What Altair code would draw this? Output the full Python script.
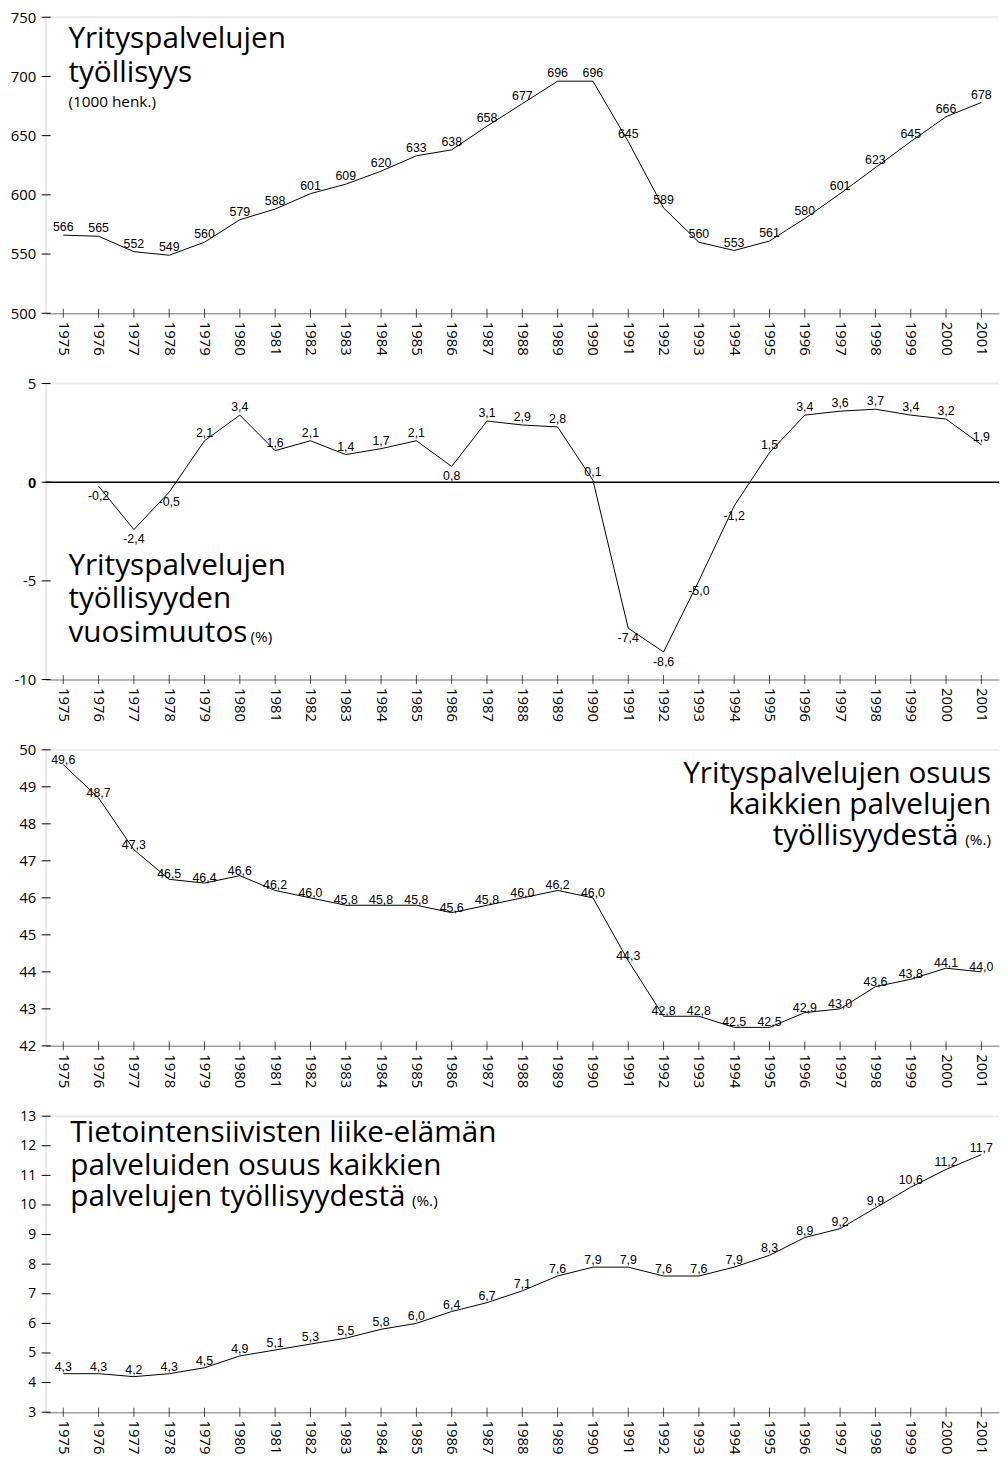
import altair as alt
import pandas as pd

years = list(range(1975, 2002))
employment = [566, 565, 552, 549, 560, 579, 588, 601, 609, 620, 633, 638, 658, 677,
              696, 696, 645, 589, 560, 553, 561, 580, 601, 623, 645, 666, 678]
change_years = list(range(1976, 2002))
change = [-0.2, -2.4, -0.5, 2.1, 3.4, 1.6, 2.1, 1.4, 1.7, 2.1, 0.8, 3.1, 2.9, 2.8,
          0.1, -7.4, -8.6, -5.0, -1.2, 1.5, 3.4, 3.6, 3.7, 3.4, 3.2, 1.9]
share_all = [49.6, 48.7, 47.3, 46.5, 46.4, 46.6, 46.2, 46.0, 45.8, 45.8, 45.8, 45.6, 45.8, 46.0,
             46.2, 46.0, 44.3, 42.8, 42.8, 42.5, 42.5, 42.9, 43.0, 43.6, 43.8, 44.1, 44.0]
share_kibs = [4.3, 4.3, 4.2, 4.3, 4.5, 4.9, 5.1, 5.3, 5.5, 5.8, 6.0, 6.4, 6.7, 7.1,
              7.6, 7.9, 7.9, 7.6, 7.6, 7.9, 8.3, 8.9, 9.2, 9.9, 10.6, 11.2, 11.7]

ticks1 = [500, 550, 600, 650, 700, 750]
ticks2 = [-10, -5, 0, 5]
ticks3 = [42, 43, 44, 45, 46, 47, 48, 49, 50]
ticks4 = [3, 4, 5, 6, 7, 8, 9, 10, 11, 12, 13]

FONT = "Open Sans"
VFONT = "Liberation Sans"
H = 299
SMALL = 15.5


def fi(v, d=1):
    return f"{v:.{d}f}".replace(".", ",")


def below_flags(vals):
    # label goes under the point for negative values and for low local minima
    out = []
    for i, v in enumerate(vals):
        prev_v = vals[i - 1] if i > 0 else None
        next_v = vals[i + 1] if i < len(vals) - 1 else None
        local_min = prev_v is not None and next_v is not None and v < prev_v and v < next_v
        out.append(v < 0 or (local_min and v < 1))
    return out


def one():
    return alt.Data(values=[{}])


def title_text(text, x, y, size=30, align="left"):
    return alt.Chart(one()).mark_text(
        text=text, font=FONT, fontSize=size, align=align, baseline="alphabetic", color="black"
    ).encode(x=alt.value(x), y=alt.value(y))


def panel(xs, values, labels, ymin, ymax, yticks, width, titles, label_layers,
          zero_line=False, ylabel_size=15):
    df = pd.DataFrame({"year": xs, "value": values, "label": labels,
                       "below": below_flags(values)})
    yaxis = dict(values=yticks, title=None, ticks=False, grid=False, domainColor="#e6e6e6",
                 domainWidth=2, labelFont=FONT, labelFontSize=ylabel_size, labelColor="black",
                 labelPadding=10, labelOverlap=False, labelBound=False, labelFlush=False,
                 labelExpr="replace(datum.label, '\u2212', '-')")
    if zero_line:
        yaxis["labelFontWeight"] = alt.condition("datum.value == 0", alt.value("bold"), alt.value("normal"))
        yaxis["labelFont"] = alt.condition("datum.value == 0", alt.value(VFONT), alt.value(FONT))
    X = alt.X("year:O", scale=alt.Scale(type="point", padding=0.5, domain=years),
              axis=alt.Axis(title=None, ticks=False, grid=False, domainColor="#a0a0a0", domainWidth=1.5,
                            labelAngle=90, labelFont=FONT, labelFontSize=15, labelColor="black",
                            labelPadding=8, labelOverlap=False))
    Y = alt.Y("value:Q", scale=alt.Scale(domain=[ymin, ymax], nice=False, zero=False),
              axis=alt.Axis(**yaxis))
    base = alt.Chart(df)
    layers = [
        alt.Chart(pd.DataFrame({"value": [ymax]})).mark_rule(color="#ececec", strokeWidth=2).encode(y=Y),
    ]
    if zero_line:
        layers.append(alt.Chart(pd.DataFrame({"value": [0]})).mark_rule(
            color="black", strokeWidth=1.5).encode(y=Y))
    layers += [
        base.mark_line(color="black", strokeWidth=1).encode(x=X, y=Y),
        alt.Chart(pd.DataFrame({"year": years, "value": [ymin] * len(years)})).mark_tick(
            orient="vertical", size=9, thickness=1, color="black").encode(x=X, y=Y),
        alt.Chart(pd.DataFrame({"value": yticks})).mark_rule(color="black", strokeWidth=1).encode(
            y=Y, x=alt.value(-4), x2=alt.value(5)),
    ]
    for flt, baseline, dy in label_layers:
        b = base if flt is None else base.transform_filter(flt)
        layers.append(b.mark_text(font=VFONT, fontSize=12.5, color="black", align="center",
                                  baseline=baseline, dy=dy).encode(x=X, y=Y, text="label:N"))
    layers += titles
    return alt.layer(*layers).properties(width=width, height=H)


p1 = panel(years, employment, [str(v) for v in employment], 500, 750, ticks1, 963,
           [title_text("Yrityspalvelujen", 23, 31),
            title_text("työllisyys", 23, 65),
            title_text("(1000 henk.)", 23, 91, size=SMALL)],
           [(None, "alphabetic", -4)])

p2 = panel(change_years, change, [fi(v) for v in change], -10, 5, ticks2, 963,
           [title_text("Yrityspalvelujen", 23, 193),
            title_text("työllisyyden", 23, 227),
            title_text("vuosimuutos", 23, 261),
            title_text("(%)", 207, 261, size=SMALL)],
           [("!datum.below", "alphabetic", -4), ("datum.below", "top", 4)],
           zero_line=True)

p3 = panel(years, share_all, [fi(v) for v in share_all], 42, 50, ticks3, 963,
           [title_text("Yrityspalvelujen osuus", 955, 33, align="right"),
            title_text("kaikkien palvelujen", 955, 65, align="right"),
            title_text("työllisyydestä", 922, 96, align="right"),
            title_text("(%.)", 955, 96, size=SMALL, align="right")],
           [(None, "alphabetic", -1)])

p4 = panel(years, share_kibs, [fi(v) for v in share_kibs], 3, 13, ticks4, 963,
           [title_text("Tietointensiivisten liike-elämän", 25, 26),
            title_text("palveluiden osuus kaikkien", 25, 59),
            title_text("palvelujen työllisyydestä", 25, 91),
            title_text("(%.)", 370, 91, size=SMALL)],
           [(None, "alphabetic", -3)], ylabel_size=14)

chart = alt.concat(p1, p2, p3, p4, columns=1, spacing=21, align="none").properties(
    padding={"left": 2, "top": -5, "right": 0, "bottom": 0}
).configure_view(stroke=None)

chart.save("out.html", embed_options={"renderer": "svg", "actions": False})
